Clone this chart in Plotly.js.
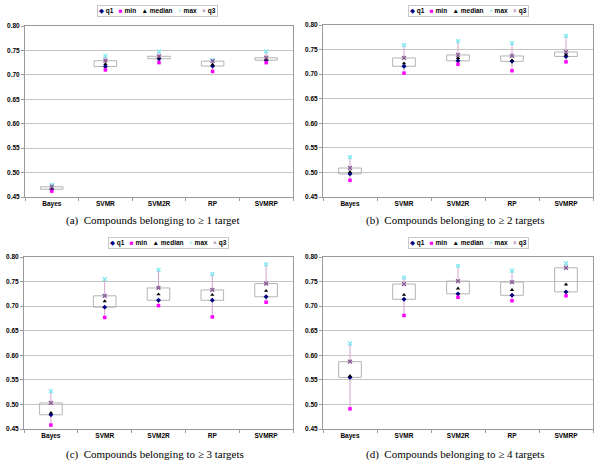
<!DOCTYPE html>
<html>
<head>
<meta charset="utf-8">
<script src="https://cdn.plot.ly/plotly-3.0.1.min.js"></script>
<style>html,body{margin:0;padding:0;background:#fff;}#chart{width:600px;height:464px;}</style>
</head>
<body>
<div id="chart"></div>
<script>
// ---- data ----
const categories = ['Bayes', 'SVMR', 'SVM2R', 'RP', 'SVMRP'];
const seriesNames = ['q1', 'min', 'median', 'max', 'q3'];
const captions = [
  '(a)  Compounds belonging to \u2265 1 target',
  '(b)  Compounds belonging to \u2265 2 targets',
  '(c)  Compounds belonging to \u2265 3 targets',
  '(d)  Compounds belonging to \u2265 4 targets'
];
const yTickVals = [0.45, 0.50, 0.55, 0.60, 0.65, 0.70, 0.75, 0.80];

// panel (a)
const minA = [0.462, 0.710, 0.725, 0.707, 0.725];
const q1A  = [0.466, 0.717, 0.733, 0.718, 0.730];
const medA = [0.468, 0.722, 0.735, 0.721, 0.732];
const q3A  = [0.471, 0.729, 0.738, 0.728, 0.735];
const maxA = [0.475, 0.739, 0.748, 0.730, 0.748];
// panel (b)
const minB = [0.484, 0.702, 0.720, 0.707, 0.725];
const q1B  = [0.497, 0.716, 0.727, 0.726, 0.736];
const medB = [0.501, 0.722, 0.733, 0.728, 0.740];
const q3B  = [0.509, 0.733, 0.739, 0.737, 0.745];
const maxB = [0.531, 0.759, 0.767, 0.763, 0.778];
// panel (c)
const minC = [0.458, 0.677, 0.701, 0.678, 0.708];
const q1C  = [0.479, 0.698, 0.712, 0.712, 0.719];
const medC = [0.483, 0.710, 0.724, 0.723, 0.731];
const q3C  = [0.503, 0.721, 0.737, 0.733, 0.746];
const maxC = [0.527, 0.755, 0.774, 0.765, 0.785];
// panel (d)
const minD = [0.491, 0.681, 0.718, 0.711, 0.721];
const q1D  = [0.555, 0.714, 0.725, 0.722, 0.729];
const medD = [0.558, 0.723, 0.736, 0.733, 0.744];
const q3D  = [0.587, 0.745, 0.751, 0.749, 0.778];
const maxD = [0.624, 0.758, 0.782, 0.772, 0.787];

// ---- styling ----
const panels = [
  {mn: minA, q1: q1A, md: medA, q3: q3A, mx: maxA, xd: [25/600, 293/600], yd: [1-197/464, 1-26/464], legX: 157, legY: 10.5, capX: 153, capY: 221},
  {mn: minB, q1: q1B, md: medB, q3: q3B, mx: maxB, xd: [323/600, 593/600], yd: [1-197/464, 1-25/464], legX: 468, legY: 10.5, capX: 455, capY: 221},
  {mn: minC, q1: q1C, md: medC, q3: q3C, mx: maxC, xd: [24/600, 293/600], yd: [1-429/464, 1-257/464], legX: 168, legY: 242.5, capX: 155, capY: 454},
  {mn: minD, q1: q1D, md: medD, q3: q3D, mx: maxD, xd: [323/600, 593/600], yd: [1-429/464, 1-257/464], legX: 468, legY: 242.5, capX: 455, capY: 454}
];
const markerStyles = {
  q1:     {symbol: 'diamond', color: '#000080', size: 3.8, glyph: '\u25C6'},
  min:    {symbol: 'square', color: '#ff00ff', size: 3.5, glyph: '\u25A0'},
  median: {symbol: 'triangle-up', color: '#000000', size: 3.8, glyph: '\u25B2'},
  max:    {symbol: 'x-thin-open', color: '#7fe8f0', size: 3.8, glyph: '\u00D7'},
  q3:     {symbol: 'x-thin-open', color: '#8a5a96', size: 3.8, glyph: '\u00D7'}
};

const data = [];
const layout = {
  width: 600, height: 464,
  margin: {l: 0, r: 0, t: 0, b: 0},
  paper_bgcolor: '#ffffff', plot_bgcolor: '#ffffff',
  showlegend: false,
  annotations: []
};

panels.forEach((p, i) => {
  const n = i === 0 ? '' : String(i + 1);
  const xa = 'x' + n, ya = 'y' + n;
  // whiskers (max -> q3, q1 -> min)
  const wx = [], wy = [];
  categories.forEach((c, k) => {
    wx.push(c, c, null, c, c, null);
    wy.push(p.mx[k], p.q3[k], null, p.q1[k], p.mn[k], null);
  });
  data.push({type: 'scatter', mode: 'lines', x: wx, y: wy, xaxis: xa, yaxis: ya,
    line: {color: '#d4a3cc', width: 1}, hoverinfo: 'skip', cliponaxis: false});
  // boxes q1..q3
  data.push({type: 'bar', x: categories, base: p.q1, y: p.q3.map((v, k) => v - p.q1[k]),
    width: 0.42, xaxis: xa, yaxis: ya,
    marker: {color: 'rgba(255,255,255,0)', line: {color: '#b4b4b4', width: 1}}});
  // markers
  const vals = {q1: p.q1, min: p.mn, median: p.md, max: p.mx, q3: p.q3};
  seriesNames.forEach(s => {
    const st = markerStyles[s];
    const open = st.symbol.endsWith('-open');
    data.push({type: 'scatter', mode: 'markers', name: s, x: categories, y: vals[s],
      xaxis: xa, yaxis: ya, cliponaxis: false,
      marker: {symbol: st.symbol, size: st.size, color: st.color,
        line: {color: st.color, width: open ? 1.4 : 0}}});
  });

  layout['xaxis' + n] = {
    domain: p.xd, anchor: ya, type: 'category',
    range: [-0.5, categories.length - 0.5],
    showgrid: false, zeroline: false,
    showline: true, mirror: true, linecolor: '#9a9a9a', linewidth: 1,
    ticks: 'outside', tickson: 'boundaries', ticklen: 3, tickcolor: '#9a9a9a',
    tickfont: {family: 'Liberation Sans, Arial, sans-serif', size: 6.5, color: '#000', weight: 'bold'},
    fixedrange: true
  };
  layout['yaxis' + n] = {
    domain: p.yd, anchor: xa,
    range: [0.45, 0.80], tickvals: yTickVals, tickformat: '.2f',
    showgrid: true, gridcolor: '#c4c4c4', gridwidth: 1, zeroline: false,
    showline: true, mirror: true, linecolor: '#9a9a9a', linewidth: 1,
    ticks: 'outside', ticklen: 3, tickcolor: '#9a9a9a',
    tickfont: {family: 'Liberation Sans, Arial, sans-serif', size: 6.5, color: '#000', weight: 'bold'},
    fixedrange: true
  };

  // legend built as text
  const legText = seriesNames.map(s =>
    '<span style="color:' + markerStyles[s].color + '">' + markerStyles[s].glyph + '</span> <b>' + s + '</b>'
  ).join('   ');
  layout.annotations.push({
    xref: 'paper', yref: 'paper', x: p.legX / 600, y: 1 - p.legY / 464,
    xanchor: 'center', yanchor: 'middle', showarrow: false,
    text: legText, bgcolor: '#ffffff', bordercolor: '#c8c8c8', borderwidth: 1, borderpad: 1,
    font: {family: 'Liberation Sans, DejaVu Sans, sans-serif', size: 6.5, color: '#000'}
  });
  // caption
  layout.annotations.push({
    xref: 'paper', yref: 'paper', x: p.capX / 600, y: 1 - p.capY / 464,
    xanchor: 'center', yanchor: 'middle', showarrow: false,
    text: captions[i],
    font: {family: 'Liberation Serif, Times New Roman, serif', size: 11, color: '#000'}
  });
});

Plotly.newPlot('chart', data, layout, {displayModeBar: false, staticPlot: true});
</script>
</body>
</html>
